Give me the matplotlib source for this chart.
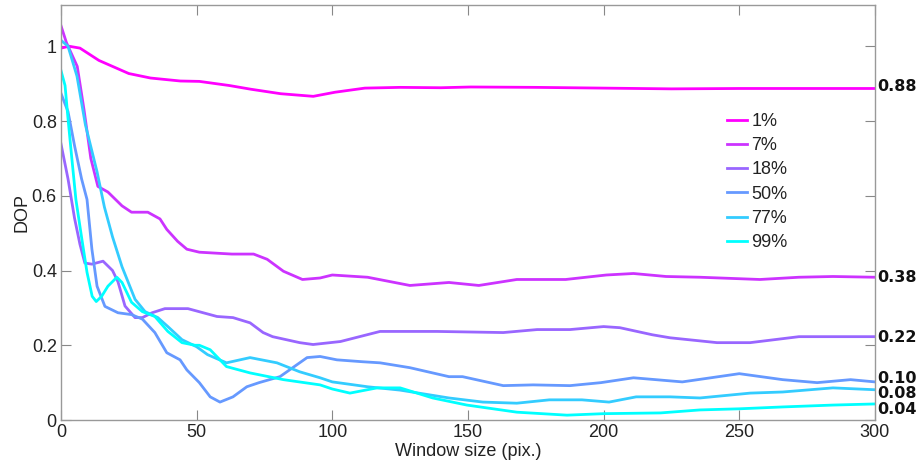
import matplotlib
matplotlib.use('Agg')
import matplotlib.pyplot as plt

# labels of the six curves and their end-value annotations
names = ['1%', '7%', '18%', '50%', '77%', '99%']
colors = ['#ff00ff', '#cc33ff', '#9966ff', '#6699ff', '#33ccff', '#00ffff']

x_1 = [0, 3, 7, 14, 25, 33, 44, 51, 62, 70, 81, 93, 101, 112, 125, 140, 151, 175, 200, 225, 250, 275, 300]
y_1 = [0.995, 1.0, 0.995, 0.962, 0.927, 0.915, 0.907, 0.906, 0.895, 0.885, 0.873, 0.866, 0.877,
       0.888, 0.89, 0.889, 0.891, 0.89, 0.888, 0.886, 0.887, 0.887, 0.887]

x_7 = [0, 2, 6, 8.5, 11, 13.6, 17.3, 22.5, 26, 32, 36.5, 39, 43, 46.4, 51, 63, 71, 76, 82, 89, 95.5,
       100, 113, 128.6, 143, 154, 168, 186, 201, 211, 223, 235.5, 257.6, 272, 284.5, 300]
y_7 = [1.055, 1.01, 0.946, 0.83, 0.70, 0.625, 0.61, 0.573, 0.556, 0.556, 0.538, 0.51, 0.478, 0.457,
       0.449, 0.444, 0.444, 0.43, 0.398, 0.376, 0.38, 0.388, 0.382, 0.36, 0.368, 0.36, 0.376, 0.376,
       0.388, 0.392, 0.384, 0.382, 0.376, 0.382, 0.384, 0.382]

x_18 = [0, 2.6, 5, 7, 8.8, 11.4, 15.5, 19, 21, 23.6, 27.3, 30, 33.6, 38.3, 46.8, 57.5, 63.4, 69.7,
        74.5, 78, 88, 92.9, 103, 117.6, 138.6, 163, 175.5, 187.6, 200, 206, 218, 224.5, 241.8, 254,
        272, 284.5, 300]
y_18 = [0.739, 0.645, 0.54, 0.47, 0.42, 0.417, 0.425, 0.4, 0.37, 0.305, 0.274, 0.274, 0.287, 0.298,
        0.298, 0.277, 0.274, 0.26, 0.234, 0.223, 0.207, 0.202, 0.21, 0.237, 0.237, 0.234, 0.242,
        0.242, 0.25, 0.247, 0.228, 0.22, 0.207, 0.207, 0.223, 0.223, 0.223]

x_50 = [0, 2.6, 5, 7.6, 9.6, 11.4, 13.3, 16.2, 21, 26, 30, 34.6, 39, 43.9, 46.4, 51, 55, 58.6, 63.4,
        68.5, 73, 80.7, 90.7, 95.5, 101.7, 111, 117.6, 128.6, 143, 148, 163, 174, 187.6, 199, 211,
        229, 250, 266, 278.7, 291, 300]
y_50 = [0.874, 0.825, 0.734, 0.645, 0.59, 0.457, 0.358, 0.304, 0.287, 0.282, 0.27, 0.234, 0.18,
        0.161, 0.134, 0.1, 0.062, 0.048, 0.062, 0.089, 0.1, 0.116, 0.167, 0.17, 0.161, 0.156, 0.153,
        0.14, 0.116, 0.116, 0.092, 0.094, 0.092, 0.1, 0.113, 0.102, 0.124, 0.108, 0.1, 0.108, 0.102]

x_77 = [0, 2.6, 5.9, 9, 13.3, 16, 19, 22.5, 27.3, 31, 35.7, 39.4, 44.6, 50, 54, 61, 69.7, 79.6, 88,
        95.5, 100, 113, 125, 143, 155.5, 168, 180, 192, 202, 212, 224.5, 235.5, 254, 266, 284.5, 300]
y_77 = [1.016, 1.0, 0.92, 0.79, 0.664, 0.57, 0.49, 0.41, 0.323, 0.29, 0.274, 0.25, 0.215, 0.196,
        0.175, 0.153, 0.167, 0.153, 0.129, 0.113, 0.102, 0.089, 0.08, 0.059, 0.048, 0.045, 0.054,
        0.054, 0.048, 0.062, 0.062, 0.059, 0.072, 0.075, 0.086, 0.081]

x_99 = [0, 1.5, 2.6, 4, 5.5, 7.7, 9.6, 11.5, 13, 15, 17.3, 20.6, 22.5, 26, 30, 34.6, 39.4, 44.6,
        49.4, 51, 55, 61, 69.7, 82, 95.5, 100, 106.5, 116.5, 125, 137, 149.6, 168, 186.5, 200, 221,
        235.5, 250, 266, 284.5, 300]
y_99 = [0.935, 0.895, 0.806, 0.7, 0.59, 0.484, 0.395, 0.331, 0.317, 0.331, 0.358, 0.382, 0.368,
        0.315, 0.29, 0.277, 0.237, 0.207, 0.2, 0.2, 0.188, 0.143, 0.126, 0.108, 0.094, 0.083, 0.072,
        0.086, 0.086, 0.059, 0.04, 0.021, 0.013, 0.017, 0.019, 0.027, 0.03, 0.035, 0.04, 0.043]

end_labels = ['0.88', '0.38', '0.22', '0.10', '0.08', '0.04']
end_label_y = [0.892, 0.382, 0.22, 0.11, 0.07, 0.027]

xs = [x_1, x_7, x_18, x_50, x_77, x_99]
ys = [y_1, y_7, y_18, y_50, y_77, y_99]

plt.rcParams['font.family'] = ['Liberation Sans', 'DejaVu Sans']

fig = plt.figure(figsize=(9.21, 4.67), dpi=100)
ax = fig.add_axes([0.0662, 0.1006, 0.8838, 0.8884])

for x, y, c, n in zip(xs, ys, colors, names):
    ax.plot(x, y, color=c, lw=2.0, label=n, solid_joinstyle='round')

ax.set_xlim(0, 300)
ax.set_ylim(0, 1.11)
ax.set_xticks([0, 50, 100, 150, 200, 250, 300])
ax.set_yticks([0, 0.2, 0.4, 0.6, 0.8, 1.0])
ax.set_yticklabels(['0', '0.2', '0.4', '0.6', '0.8', '1'])
ax.tick_params(direction='in', length=7, width=0.8, color='#888888',
               labelsize=13, labelcolor='#222222', top=True, right=True, pad=3)
for s in ax.spines.values():
    s.set_color('#999999')
    s.set_linewidth(1.0)

ax.set_xlabel('Window size (pix.)', fontsize=13, color='#222222', labelpad=1)
ax.set_ylabel('DOP', fontsize=13, color='#222222', labelpad=1)

# end values written just outside the right edge
for t, yv in zip(end_labels, end_label_y):
    ax.text(301.0, yv, t, fontsize=11.5, fontweight='bold', family='DejaVu Sans',
            va='center', ha='left', clip_on=False, color='#111111')

leg = ax.legend(loc='upper left', bbox_to_anchor=(0.818, 0.74), frameon=False,
                fontsize=13, handlelength=1.1, handletextpad=0.25, labelspacing=0.4,
                borderpad=0, borderaxespad=0)
for t in leg.get_texts():
    t.set_color('#222222')

fig.savefig('out.png', dpi=100)
